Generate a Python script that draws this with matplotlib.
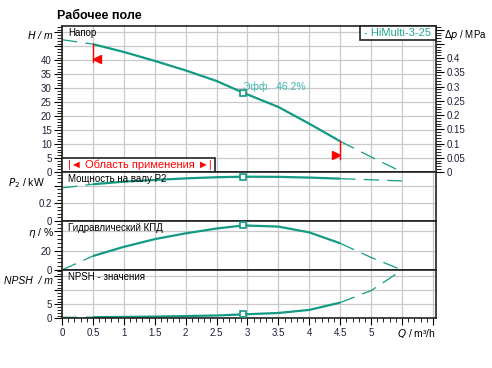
import matplotlib
matplotlib.use('Agg')
import matplotlib.pyplot as plt
from matplotlib.ticker import MultipleLocator, FixedLocator
from matplotlib.patches import Rectangle

plt.rcParams['font.family'] = ['Liberation Sans', 'DejaVu Sans']
plt.rcParams['lines.scale_dashes'] = False

# данные кривых
Q = [0, 0.5, 1, 1.5, 2, 2.5, 2.93, 3.5, 4, 4.5, 5, 5.5]
H = [47.4, 45.8, 43.0, 39.8, 36.4, 32.6, 28.4, 23.3, 17.3, 11.0, 5.4, 0]
P2 = [0.373, 0.415, 0.444, 0.463, 0.481, 0.494, 0.50, 0.498, 0.49, 0.478, 0.465, 0.452]
ETA = [0, 14.5, 24, 32, 38, 43, 46.2, 45, 39, 27.7, 13, 0]
NPSH = [0.35, 0.4, 0.5, 0.6, 0.8, 1.0, 1.4, 1.9, 3.0, 5.6, 9.9, 17.2]

Q_min, Q_max = 0.5, 4.5        # область применения
duty = 6                       # индекс рабочей точки
eff_text = 'Эфф.  46.2%'
pump = '- HiMulti-3-25'

teal = '#139a83'
grid_c = '#c8c8c8'
tick_c = '#1f1f3a'

W, Hpx = 492, 368
fig = plt.figure(figsize=(W / 100, Hpx / 100), dpi=100)


def rect(top, bottom):
    return [62 / W, 1 - bottom / Hpx, (436 - 62) / W, (bottom - top) / Hpx]


ax1 = fig.add_axes(rect(26, 172))
ax2 = fig.add_axes(rect(172, 221))
ax3 = fig.add_axes(rect(221, 270))
ax4 = fig.add_axes(rect(270, 318.3))
axs = [ax1, ax2, ax3, ax4]


def curve(ax, y):
    i0 = Q.index(Q_min)
    i1 = Q.index(Q_max)
    ax.plot(Q[:i0 + 1], y[:i0 + 1], color=teal, lw=0.9, dashes=(11, 6))
    ax.plot(Q[i1:], y[i1:], color=teal, lw=0.9, dashes=(11, 6))
    ax.plot(Q[i0:i1 + 1], y[i0:i1 + 1], color=teal, lw=1.6, solid_capstyle='butt')
    ax.plot(Q[duty], y[duty], 's', ms=4.5, mfc='white', mec=teal, mew=1.2, zorder=5)


def panel_title(ax, s):
    ax.annotate(s, xy=(0, 1), xycoords='axes fraction', xytext=(6, -6.5),
                textcoords='offset pixels', fontsize=7, va='center', ha='left')


for ax in axs:
    ax.set_xlim(0, 6.05)
    ax.xaxis.set_major_locator(MultipleLocator(0.5))
    ax.xaxis.set_minor_locator(MultipleLocator(0.1))
    ax.grid(True, which='major', color=grid_c, lw=0.9)
    ax.set_axisbelow(True)
    for s in ax.spines.values():
        s.set_color('#222222')
        s.set_linewidth(1.2)
    ax.tick_params(axis='y', which='major', length=6, width=0.8, labelsize=7,
                   labelcolor=tick_c, pad=1.5)
    ax.tick_params(axis='y', which='minor', length=3.5, width=0.6)
    if ax is not ax4:
        ax.tick_params(axis='x', which='both', bottom=False, labelbottom=False)

# напор
curve(ax1, H)
ax1.set_ylim(0, 52.3)
ax1.yaxis.set_major_locator(FixedLocator(range(0, 55, 5)))
ax1.set_yticklabels([str(v) if v <= 40 else '' for v in range(0, 55, 5)])
ax1.yaxis.set_minor_locator(MultipleLocator(1))

axp = ax1.twinx()
axp.set_ylim(0, 52.3 * 0.00981)
ticks_p = [0, 0.05, 0.1, 0.15, 0.2, 0.25, 0.3, 0.35, 0.4, 0.45, 0.5]
axp.set_yticks(ticks_p)
axp.set_yticklabels(['%g' % t if t <= 0.4 else '' for t in ticks_p])
axp.yaxis.set_minor_locator(MultipleLocator(0.01))
axp.tick_params(axis='y', which='major', length=6, width=0.8, labelsize=7,
                labelcolor=tick_c, pad=1.5)
axp.tick_params(axis='y', which='minor', length=3.5, width=0.6)
for s in axp.spines.values():
    s.set_visible(False)

# границы области применения
i0 = Q.index(Q_min)
i1 = Q.index(Q_max)
ax1.plot([Q_min, Q_min], [H[i0], 39.3], color='red', lw=1)
ax1.plot(Q_min + 0.07, 40.3, '<', color='red', ms=6)
ax1.plot([Q_max, Q_max], [H[i1], 4.6], color='red', lw=1)
ax1.plot(Q_max - 0.07, 6.0, '>', color='red', ms=6)

panel_title(ax1, 'Напор')
ax1.text(2.93, 30.6, eff_text, fontsize=7.5, color='#3cbab0', va='center')

# подпись насоса в рамке
bw, bh = (436 - 360) / 374, 14 / 146
ax1.add_patch(Rectangle((1 - bw, 1 - bh), bw, bh, transform=ax1.transAxes,
                        fc='white', ec='#222222', lw=1.2, zorder=9, clip_on=False))
ax1.text(1 - bw / 2, 1 - bh / 2, pump, transform=ax1.transAxes, fontsize=8,
         color='#20a595', ha='center', va='center', zorder=10)

# рамка "Область применения"
aw, ah = (215 - 62) / 374, 14 / 146
ax1.add_patch(Rectangle((0, 0), aw, ah, transform=ax1.transAxes,
                        fc='white', ec='#222222', lw=1.2, zorder=9, clip_on=False))
ax1.text(aw / 2 + 0.005, ah / 2, '|◄ Область применения ►|', transform=ax1.transAxes,
         fontsize=8, color='red', ha='center', va='center', zorder=10)

# мощность
curve(ax2, P2)
ax2.set_ylim(0, 0.553)
ax2.set_yticks([0, 0.2, 0.4])
ax2.set_yticklabels(['0', '0.2', ''])
ax2.yaxis.set_minor_locator(MultipleLocator(0.04))
panel_title(ax2, 'Мощность на валу P2')

# КПД
curve(ax3, ETA)
ax3.set_ylim(0, 50.8)
ax3.set_yticks([0, 20, 40])
ax3.set_yticklabels(['0', '20', ''])
ax3.yaxis.set_minor_locator(MultipleLocator(4))
panel_title(ax3, 'Гидравлический КПД')

# NPSH
curve(ax4, NPSH)
ax4.set_ylim(0, 17.25)
ax4.set_yticks([0, 5, 10, 15])
ax4.set_yticklabels(['0', '5', '', ''])
ax4.yaxis.set_minor_locator(MultipleLocator(1))
panel_title(ax4, 'NPSH - значения')

xt = [i * 0.5 for i in range(13)]
ax4.set_xticks(xt)
ax4.set_xticklabels(['%g' % v if v <= 5 else '' for v in xt])
ax4.tick_params(axis='x', which='major', length=5, width=0.8, labelsize=7,
                labelcolor=tick_c, pad=2)
ax4.tick_params(axis='x', which='minor', length=3, width=0.6)

# подписи осей
fig.text(54 / W, 1 - 35 / Hpx, r'$H$ / m', fontsize=7.5, ha='right', va='center', style='italic')
fig.text(45 / W, 1 - 183 / Hpx, r'$P_2$ / kW', fontsize=7.5, ha='right', va='center')
fig.text(54 / W, 1 - 233 / Hpx, r'$\eta$ / %', fontsize=7.5, ha='right', va='center')
fig.text(53 / W, 1 - 281 / Hpx, 'NPSH  / m', fontsize=7.5, ha='right', va='center', style='italic')
fig.text(444 / W, 1 - 35.5 / Hpx, r'$\Delta p$ / MPa', fontsize=7, ha='left', va='center')
fig.text(436 / W, 1 - 334 / Hpx, r'$Q$ / m³/h', fontsize=7.5, ha='right', va='center')
fig.text(57 / W, 1 - 16 / Hpx, 'Рабочее поле', fontsize=9, weight='bold', ha='left', va='center')

fig.savefig('out.png', dpi=100)
